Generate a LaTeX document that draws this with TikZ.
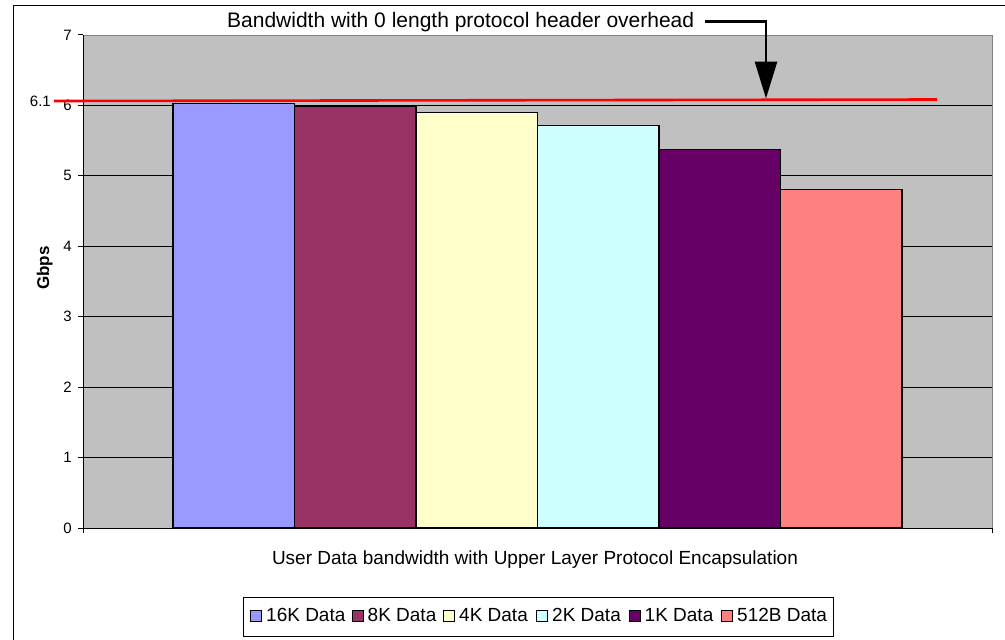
\documentclass[tikz,border=0pt]{standalone}
\usepackage{fontspec}
\setmainfont{Liberation Sans}
\usetikzlibrary{arrows.meta}

\definecolor{plotgray}{HTML}{C0C0C0}
\definecolor{framegray}{HTML}{808080}
\definecolor{c16k}{HTML}{9999FF}
\definecolor{c8k}{HTML}{993366}
\definecolor{c4k}{HTML}{FFFFCC}
\definecolor{c2k}{HTML}{CCFFFF}
\definecolor{c1k}{HTML}{660066}
\definecolor{c512}{HTML}{FF8080}

\tikzset{
  bar/.style={draw=black, line width=1.2pt},
  key/.style={draw=black, line width=0.8pt},
  ticklabel/.style={anchor=east, inner sep=0pt, font=\fontsize{15}{18}\selectfont},
  keylabel/.style={anchor=base west, inner sep=0pt, font=\fontsize{19}{22}\selectfont},
  pointer/.style={line width=2.7pt, -{Triangle[length=37pt,width=22pt]}},
}

\begin{document}
\begin{tikzpicture}[x=1pt, y=-1pt]
  \useasboundingbox (0,0) rectangle (1005,640);
  \draw[line width=1pt] (13,640) |- (1005,5);

  % plot area and grid
  \fill[plotgray] (83,35) rectangle (992,528);
  \draw[framegray, line width=1pt] (83,35) -- (992,35) -- (992,528);
  \foreach \v in {1,...,6}
    \draw[line width=0.9pt] (83,{528-70.43*\v}) -- (992,{528-70.43*\v});

  % bars
  \foreach \lft/\val/\col in {173/6.03/c16k, 294.5/5.98/c8k, 416/5.90/c4k,
                              537.5/5.71/c2k, 659/5.37/c1k, 780.5/4.81/c512}
    \draw[bar, fill=\col] (\lft,528) rectangle ++(121.5,{-70.43*\val});

  % axes
  \draw[line width=1pt] (83,35) -- (83,528) -- (992,528);
  \draw[line width=1pt] (83,528) -- (83,533);
  \draw[line width=1pt] (992,528) -- (992,533);
  \foreach \v in {0,...,7} {
    \draw[line width=1pt] (78,{528-70.43*\v}) -- (83,{528-70.43*\v});
    \node[ticklabel] (tick\v) at (72,{528-70.43*\v}) {\v};
  }
  \node[anchor=base, rotate=90, font=\fontsize{17}{20}\selectfont\bfseries] (ylabel) at (49,268) {Gbps};

  % limit line
  \draw[red, line width=2.6pt] (54,101) -- (937,99.5);
  \node[ticklabel] (limit) at (51,101) {6.1};

  \node[anchor=base west, inner sep=0pt, font=\fontsize{21}{25}\selectfont] (title) at (227,27)
    {Bandwidth with 0 length protocol header overhead};
  \coordinate (elbow) at (766,21.7);
  \coordinate (tip) at (766,98.5);
  \draw[pointer] (title.east |- elbow) ++(11,0) -- (elbow) -- (tip);

  \node[anchor=base, inner sep=0pt, font=\fontsize{19}{22}\selectfont] (xlabel) at (535,564)
    {User Data bandwidth with Upper Layer Protocol Encapsulation};

  % legend
  \draw[line width=1pt] (243,597) rectangle (833,636);
  \foreach \kx/\col/\txt in {250.5/c16k/16K Data, 352/c8k/8K Data, 443.5/c4k/4K Data,
                             536.5/c2k/2K Data, 629/c1k/1K Data, 721.5/c512/512B Data} {
    \draw[key, fill=\col] (\kx,610) rectangle ++(11,11.5);
    \node[keylabel] (key\col) at (\kx+15.5,621.5) {\txt};
  }
\end{tikzpicture}
\end{document}
